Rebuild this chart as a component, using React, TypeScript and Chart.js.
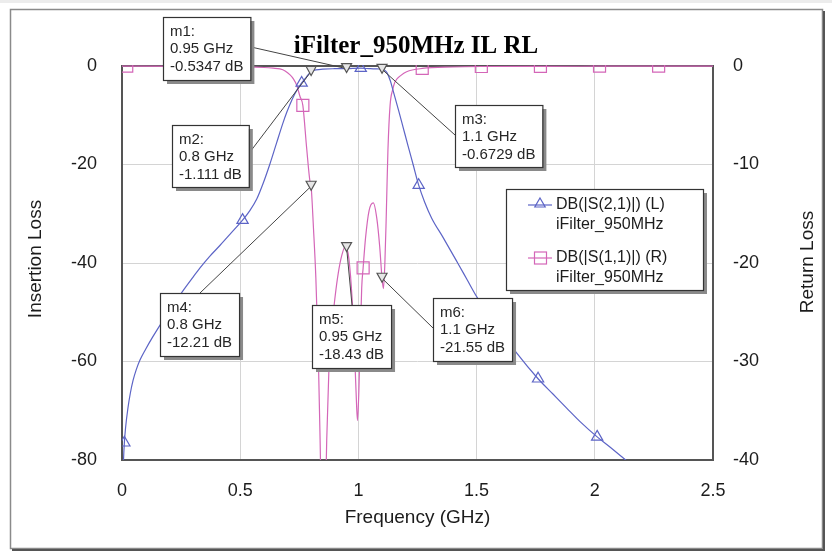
import React, { useEffect, useRef } from 'react';
import { Chart, registerables } from 'chart.js';

Chart.register(...registerables);

// ---------------- data ----------------
const chartTitle = 'iFilter_950MHz IL RL';
const xTitle = 'Frequency (GHz)';
const leftTitle = 'Insertion Loss';
const rightTitle = 'Return Loss';

const xTicks = [0, 0.5, 1, 1.5, 2, 2.5];
const leftTicks = [0, -20, -40, -60, -80];
const rightTicks = [0, -10, -20, -30, -40];

// DB(|S(2,1)|) – left axis
const freqS21 = [
  0.003, 0.006, 0.01, 0.015, 0.025, 0.035, 0.047, 0.06, 0.076, 0.1, 0.13, 0.161, 0.2, 0.2525, 0.3, 0.33,
  0.37, 0.415, 0.46, 0.51, 0.54, 0.57, 0.598, 0.625, 0.654, 0.68, 0.697, 0.72, 0.739, 0.76, 0.78, 0.8,
  0.82, 0.85, 0.9, 0.95, 1.01, 1.05, 1.08, 1.1, 1.11, 1.12, 1.135, 1.148, 1.17, 1.19, 1.21, 1.232,
  1.255, 1.28, 1.31, 1.358, 1.42, 1.46, 1.5, 1.58, 1.67, 1.76, 1.823, 1.88, 1.94, 2.01, 2.064, 2.128,
  2.2, 2.5,
];
const s21dB = [
  -86, -80.5, -76.5, -73.5, -69.5, -66.5, -63.8, -61.7, -59.7, -57.5, -55.0, -52.6, -49.7, -46.0, -42.9, -41.0,
  -38.7, -36.4, -34.0, -31.3, -29.4, -27.0, -23.7, -20.0, -15.6, -11.7, -9.4, -6.75, -4.95, -3.44, -2.24, -1.111,
  -0.8, -0.62, -0.55, -0.5347, -0.45, -0.55, -0.6, -0.6729, -0.8, -1.3, -3, -5.2, -9, -12.6, -16.2, -20.1,
  -24.2, -27.6, -30.9, -34.8, -40.0, -43.4, -46.8, -52.4, -58.3, -63.5, -66.6, -69.4, -72.3, -75.3, -77.35, -79.9,
  -82.6, -92,
];
const s21MarkerFreqs = [0.01, 0.51, 0.76, 1.01, 1.255, 1.76, 2.01];

// DB(|S(1,1)|) – right axis
const freqS11 = [
  0, 0.02, 0.3, 0.52, 0.6, 0.64, 0.668, 0.69, 0.711, 0.725, 0.739, 0.753, 0.765, 0.781, 0.795, 0.8,
  0.81, 0.82, 0.83, 0.838, 0.845, 0.852, 0.858, 0.866, 0.875, 0.888, 0.901, 0.915, 0.93, 0.945, 0.95, 0.96,
  0.973, 0.982, 0.99, 0.996, 1.002, 1.008, 1.014, 1.02, 1.03, 1.045, 1.063, 1.078, 1.09, 1.1, 1.106, 1.112,
  1.117, 1.12, 1.125, 1.134, 1.145, 1.155, 1.18, 1.204, 1.27, 1.4, 1.52, 1.77, 2.02, 2.27, 2.5,
];
const s11dB = [
  -0.01, -0.01, -0.03, -0.08, -0.15, -0.22, -0.3, -0.5, -0.9, -1.3, -1.95, -3.1, -4.0, -8.3, -11.7, -12.21,
  -16.5, -21.5, -29, -38, -47, -52, -47, -38, -31, -26.5, -23.5, -21, -19.2, -18.3, -18.43, -19.6,
  -23.5, -28, -33, -36, -33, -27.5, -22.5, -20.5, -17.5, -14.7, -13.9, -15.5, -18.3, -21.55, -22.6, -20,
  -16, -13.1, -8.5, -4.0, -2.4, -1.6, -0.95, -0.58, -0.25, -0.1, -0.05, -0.03, -0.02, -0.01, -0.01,
];
const s11MarkerFreqs = [0.02, 0.765, 1.02, 1.27, 1.52, 1.77, 2.02, 2.27];

const seriesNames = ['DB(|S(2,1)|) (L)', 'DB(|S(1,1)|) (R)'];
const seriesSource = ['iFilter_950MHz', 'iFilter_950MHz'];

// markers m1..m6
const markerNames = ['m1', 'm2', 'm3', 'm4', 'm5', 'm6'];
const markerFreqs = [0.95, 0.8, 1.1, 0.8, 0.95, 1.1];
const markerValues = [-0.5347, -1.111, -0.6729, -12.21, -18.43, -21.55];
const markerAxis = ['yL', 'yL', 'yL', 'yR', 'yR', 'yR'];

// ---------------- styles / layout ----------------
const SANS = '"Liberation Sans", Arial, sans-serif';
const BLUE = '#5c64c6';
const PINK = '#d466b8';
const TEXT = '#1c1c1c';

const markerBoxes = [
  { x: 163, y: 17, h: 63, ax: 251, ay: 47 },
  { x: 172, y: 125, h: 62, ax: 250, ay: 152 },
  { x: 455, y: 105, h: 62, ax: 455, ay: 135 },
  { x: 160, y: 293, h: 63, ax: 200, ay: 293 },
  { x: 312, y: 305, h: 63, ax: 352, ay: 305 },
  { x: 433, y: 298, h: 63, ax: 433, ay: 328 },
];
const legendBox = { x: 506, y: 189, w: 197, h: 101 };

function drawShadowBox(ctx: CanvasRenderingContext2D, x: number, y: number, w: number, h: number) {
  ctx.fillStyle = '#8a8a8a';
  ctx.fillRect(x + 4, y + 4, w, h);
  ctx.fillStyle = '#ffffff';
  ctx.fillRect(x, y, w, h);
  ctx.strokeStyle = '#333333';
  ctx.lineWidth = 1.2;
  ctx.strokeRect(x + 0.5, y + 0.5, w, h);
}

function drawTriangle(ctx: CanvasRenderingContext2D, x: number, y: number, r: number, color: string) {
  ctx.save();
  ctx.strokeStyle = color;
  ctx.lineWidth = 1.2;
  ctx.beginPath();
  ctx.moveTo(x, y - r);
  ctx.lineTo(x + r * 0.866, y + r * 0.5);
  ctx.lineTo(x - r * 0.866, y + r * 0.5);
  ctx.closePath();
  ctx.stroke();
  ctx.restore();
}

const framePlugin = {
  id: 'frameAndAnnotations',
  beforeDatasetsDraw(chart: any) {
    const { ctx, chartArea: a } = chart;
    ctx.save();
    ctx.strokeStyle = '#555555';
    ctx.lineWidth = 2;
    ctx.strokeRect(a.left, a.top, a.right - a.left, a.bottom - a.top);
    ctx.restore();
  },
  afterDraw(chart: any) {
    const { ctx } = chart;
    const W = chart.width;
    ctx.save();
    // outer frame
    ctx.fillStyle = '#ececec';
    ctx.fillRect(0, 0, W, 3);
    ctx.strokeStyle = '#8a8a8a';
    ctx.lineWidth = 1.5;
    ctx.strokeRect(10.5, 9.5, 812, 539);
    ctx.strokeStyle = '#555555';
    ctx.lineWidth = 2;
    ctx.beginPath();
    ctx.moveTo(824, 11);
    ctx.lineTo(824, 550);
    ctx.lineTo(12, 550);
    ctx.stroke();

    // title
    ctx.fillStyle = '#000';
    ctx.font = 'bold 25px "Liberation Serif", "Times New Roman", serif';
    ctx.textAlign = 'center';
    ctx.textBaseline = 'alphabetic';
    ctx.fillText(chartTitle, 416, 53);

    // axis titles
    ctx.fillStyle = TEXT;
    ctx.font = `19px ${SANS}`;
    ctx.textBaseline = 'middle';
    ctx.save();
    ctx.translate(36, 259);
    ctx.rotate(-Math.PI / 2);
    ctx.fillText(leftTitle, 0, 0);
    ctx.restore();
    ctx.save();
    ctx.translate(808, 262);
    ctx.rotate(-Math.PI / 2);
    ctx.fillText(rightTitle, 0, 0);
    ctx.restore();

    // markers: triangles + leader lines
    const xs = chart.scales.x;
    markerNames.forEach((_, i) => {
      const px = xs.getPixelForValue(markerFreqs[i]);
      const py = chart.scales[markerAxis[i]].getPixelForValue(markerValues[i]);
      const b = markerBoxes[i];
      ctx.strokeStyle = '#444';
      ctx.lineWidth = 1;
      ctx.beginPath();
      ctx.moveTo(b.ax, b.ay);
      ctx.lineTo(px, py);
      ctx.stroke();
      ctx.fillStyle = '#e6e6e6';
      ctx.strokeStyle = '#555';
      ctx.lineWidth = 1.2;
      ctx.beginPath();
      ctx.moveTo(px - 5, py - 5);
      ctx.lineTo(px + 5, py - 5);
      ctx.lineTo(px, py + 4);
      ctx.closePath();
      ctx.fill();
      ctx.stroke();
    });

    // marker boxes
    ctx.font = `15px ${SANS}`;
    ctx.textAlign = 'left';
    ctx.textBaseline = 'middle';
    markerNames.forEach((name, i) => {
      const b = markerBoxes[i];
      const lines = [`${name}:`, `${markerFreqs[i]} GHz`, `${markerValues[i]} dB`];
      const w = Math.max(...lines.map((l) => ctx.measureText(l).width)) + 14;
      drawShadowBox(ctx, b.x, b.y, w, b.h);
      ctx.fillStyle = '#262626';
      lines.forEach((l, k) => ctx.fillText(l, b.x + 7, b.y + 15 + 17.3 * k));
    });

    // legend
    const L = legendBox;
    drawShadowBox(ctx, L.x, L.y, L.w, L.h);
    ctx.font = `16px ${SANS}`;
    const colors = [BLUE, PINK];
    [0, 1].forEach((k) => {
      const y0 = L.y + 16 + k * 53;
      ctx.strokeStyle = colors[k];
      ctx.lineWidth = 1.2;
      ctx.beginPath();
      ctx.moveTo(L.x + 22, y0);
      ctx.lineTo(L.x + 46, y0);
      ctx.stroke();
      if (k === 0) {
        drawTriangle(ctx, L.x + 34, y0 - 1, 6, colors[k]);
      } else {
        ctx.strokeRect(L.x + 28.5, y0 - 6, 12, 12);
      }
      ctx.fillStyle = TEXT;
      ctx.fillText(seriesNames[k], L.x + 50, y0);
      ctx.fillText(seriesSource[k], L.x + 50, y0 + 20);
    });
    ctx.restore();
  },
};

export default function App() {
  const ref = useRef<HTMLCanvasElement | null>(null);
  useEffect(() => {
    document.body.style.margin = '0';
    const canvas = ref.current;
    if (!canvas) return;
    const s21Set = new Set(s21MarkerFreqs);
    const s11Set = new Set(s11MarkerFreqs);
    const chart = new Chart(canvas, {
      type: 'line',
      data: {
        datasets: [
          {
            label: seriesNames[0],
            data: freqS21.map((f, i) => ({ x: f, y: s21dB[i] })),
            yAxisID: 'yL',
            borderColor: BLUE,
            borderWidth: 1.2,
            pointStyle: 'triangle',
            pointRadius: (c: any) => (s21Set.has(freqS21[c.dataIndex]) ? 6.5 : 0),
            pointBorderColor: BLUE,
            pointBackgroundColor: 'rgba(0,0,0,0)',
            pointBorderWidth: 1.2,
            cubicInterpolationMode: 'monotone',
            clip: { left: 0, top: 1, right: 0, bottom: 0 },
          } as any,
          {
            label: seriesNames[1],
            data: freqS11.map((f, i) => ({ x: f, y: s11dB[i] })),
            yAxisID: 'yR',
            borderColor: PINK,
            borderWidth: 1.2,
            pointStyle: 'rect',
            pointRadius: (c: any) => (s11Set.has(freqS11[c.dataIndex]) ? 8.5 : 0),
            pointBorderColor: PINK,
            pointBackgroundColor: 'rgba(0,0,0,0)',
            pointBorderWidth: 1.2,
            cubicInterpolationMode: 'monotone',
            clip: { left: 0, top: 1, right: 0, bottom: 0 },
          } as any,
        ],
      },
      options: {
        responsive: false,
        animation: false,
        events: [],
        layout: { padding: { left: 10, right: 10, top: 66, bottom: 10 } },
        plugins: { legend: { display: false }, tooltip: { enabled: false }, title: { display: false } },
        scales: {
          x: {
            type: 'linear',
            min: 0,
            max: 2.5,
            afterBuildTicks: (s: any) => {
              s.ticks = xTicks.map((v) => ({ value: v }));
            },
            ticks: {
              callback: (v: any) => String(v),
              font: { family: SANS, size: 18 },
              color: TEXT,
              padding: 20,
              maxRotation: 0,
              autoSkip: false,
            },
            grid: { color: '#d4d4d4', lineWidth: 1, drawTicks: false },
            border: { display: false },
            title: {
              display: true,
              text: xTitle,
              font: { family: SANS, size: 19 },
              color: TEXT,
              padding: { top: 0, bottom: 13 },
            },
            afterFit: (s: any) => {
              s.height = 82;
            },
          },
          yL: {
            type: 'linear',
            position: 'left',
            min: -80,
            max: 0,
            afterBuildTicks: (s: any) => {
              s.ticks = leftTicks.map((v) => ({ value: v }));
            },
            ticks: { callback: (v: any) => String(v), font: { family: SANS, size: 18 }, color: TEXT, padding: 25 },
            grid: { color: '#d4d4d4', lineWidth: 1, drawTicks: false },
            border: { display: false },
            afterFit: (s: any) => {
              s.width = 112;
            },
          },
          yR: {
            type: 'linear',
            position: 'right',
            min: -40,
            max: 0,
            afterBuildTicks: (s: any) => {
              s.ticks = rightTicks.map((v) => ({ value: v }));
            },
            ticks: { callback: (v: any) => String(v), font: { family: SANS, size: 18 }, color: TEXT, padding: 20 },
            grid: { display: false, drawTicks: false },
            border: { display: false },
            afterFit: (s: any) => {
              s.width = 109;
            },
          },
        },
      } as any,
      plugins: [framePlugin],
    });
    return () => chart.destroy();
  }, []);
  return (
    <div style={{ width: 832, height: 552, background: '#fff' }}>
      <canvas ref={ref} width={832} height={552} style={{ display: 'block' }} />
    </div>
  );
}
